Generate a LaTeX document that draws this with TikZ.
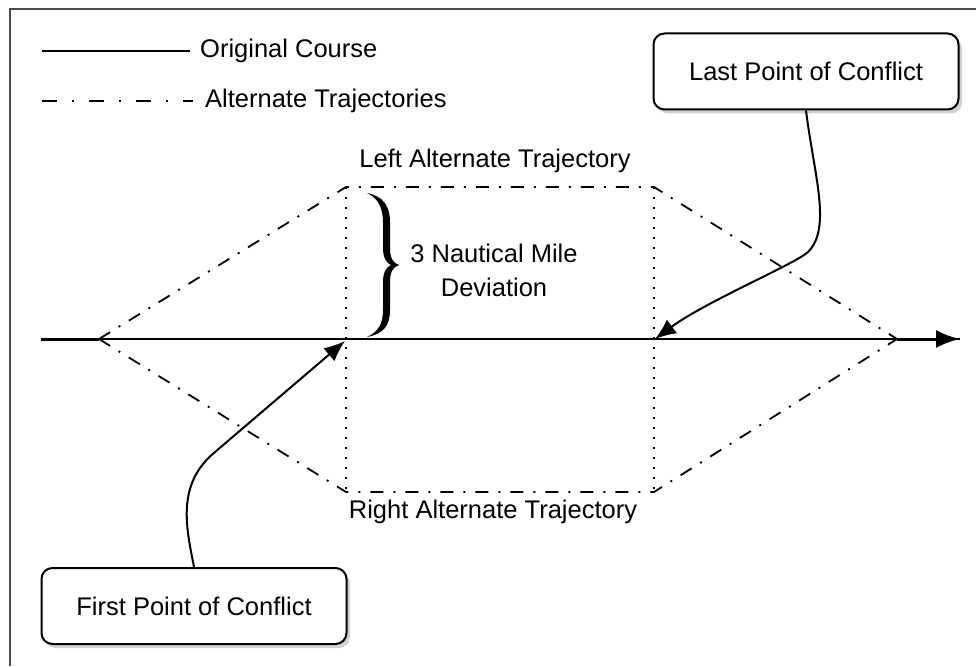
\documentclass[tikz,border=0pt]{standalone}
\usepackage{fontspec}
\setmainfont{Liberation Sans}
\usetikzlibrary{arrows.meta,shadows}
\begin{document}
\begin{tikzpicture}[x=1pt,y=-1pt,
  lbl/.style={font=\fontsize{25.5}{34}\selectfont, inner sep=0pt},
  callout/.style={draw, line width=2pt, rounded corners=11pt, fill=white,
    drop shadow={shadow xshift=3.5pt, shadow yshift=-4pt, fill=black!35},
    minimum width=305pt, minimum height=76pt, inner sep=0pt,
    font=\fontsize{25.5}{30}\selectfont},
  dashdot/.style={line width=1.8pt, dash pattern=on 13pt off 10pt on 2pt off 10pt},
  legdashdot/.style={line width=1.8pt, dash pattern=on 15pt off 15pt on 2pt off 15pt},
  dotline/.style={line width=1.8pt, dash pattern=on 1.8pt off 8.2pt},
  conn/.style={line width=2pt, -{Latex[length=21pt,width=17pt]}}
]
\useasboundingbox (0,0) rectangle (976,666);
% frame
\coordinate (frtr) at (976,9);
\coordinate (frtl) at (10,9);
\coordinate (frbl) at (10,666);
\draw[black!70, line width=1.5pt] (frtr) -- (frtl) -- (frbl);

% legend
\coordinate (lga) at (42,51);
\coordinate (lgb) at (190,51);
\draw[line width=1.8pt] (lga) -- (lgb);
\node[lbl, anchor=west] (lgt1) at (200,51) {Original Course};
\coordinate (lgc) at (42,101);
\coordinate (lgd) at (193,101);
\draw[legdashdot] (lgc) -- (lgd);
\node[lbl, anchor=west] (lgt2) at (205,101) {Alternate Trajectories};

% trajectory points
\coordinate (start) at (41,339);
\coordinate (L) at (99,339);
\coordinate (R) at (897,339);
\coordinate (end) at (960,339);
\coordinate (TL) at (346,187);
\coordinate (TR) at (654,187);
\coordinate (BL) at (346,492);
\coordinate (BR) at (654,492);

% alternate trajectories
\draw[dashdot] (L) -- (TL) -- (TR) -- (R);
\draw[dashdot] (L) -- (BL) -- (BR) -- (R);
\draw[dotline] (TL) -- (BL);
\draw[dotline] (TR) -- (BR);

% original course
\draw[line width=1.8pt] (start) -- (end);
\draw[line width=3pt] (start) -- (L);
\draw[line width=3pt, -{Latex[length=24pt,width=18pt]}] (R) -- (end);

% labels
\node[lbl] (lefttxt) at (495,161) {Left Alternate Trajectory};
\node[lbl] (righttxt) at (493,512) {Right Alternate Trajectory};
\node[lbl, align=center] (devtxt) at (494,270) {3 Nautical Mile\\Deviation};

% brace
\fill (367,193) .. controls (383,196) and (390,206) .. (390,222) -- (390,248)
  .. controls (390,258) and (393,263) .. (399,265)
  .. controls (393,267) and (390,272) .. (390,282) -- (390,310)
  .. controls (390,326) and (383,334) .. (367,337)
  .. controls (378,332) and (383,324) .. (383,310) -- (383,282)
  .. controls (383,273) and (386,267) .. (391,265)
  .. controls (386,263) and (383,257) .. (383,248) -- (383,222)
  .. controls (383,208) and (378,198) .. (367,193) -- cycle;

% callouts
\node[callout] (last) at (806,71.5) {Last Point of Conflict};
\node[callout] (first) at (194,606) {First Point of Conflict};

\coordinate (fp) at (345,341);
\coordinate (lp) at (655,339);
\draw[conn] (first.north) .. controls (187,530) and (175,485) .. (215,452) -- (fp);
\draw[conn] (last.south) .. controls (814,175) and (832,228) .. (808,252)
  .. controls (795,264) and (705,302) .. (lp);
\end{tikzpicture}
\end{document}
